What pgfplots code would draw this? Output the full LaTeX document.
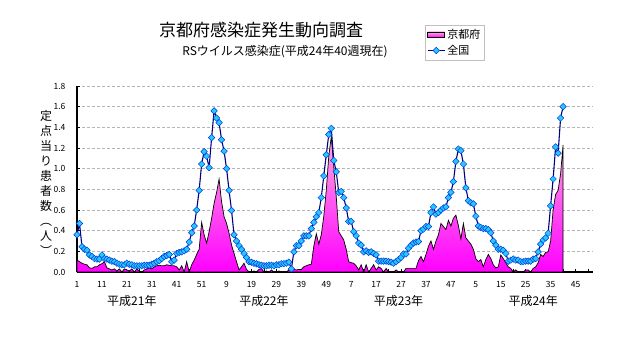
\documentclass[border=0pt]{standalone}
\usepackage{pgfplots}
\pgfplotsset{compat=1.18}
\usepackage{pgfplotstable}
\usepackage{fontspec}
\setmainfont{Noto Sans CJK JP}
\definecolor{navy}{RGB}{0,0,128}
\definecolor{mk}{RGB}{40,200,255}
\definecolor{mkedge}{RGB}{0,60,220}
\definecolor{pinktop}{RGB}{255,170,225}
\definecolor{pinkbot}{RGB}{255,0,255}
\definecolor{gridc}{RGB}{180,180,180}
\definecolor{legc}{RGB}{192,192,192}
\pgfplotstableread{
k nat kyo
0 0.36 0.115
1 0.47 0.10
2 0.245 0.085
3 0.22 0.075
4 0.21 0.07
5 0.165 0.04
6 0.15 0.035
7 0.13 0.05
8 0.125 0.05
9 0.125 0.07
10 0.165 0.08
11 0.13 0.10
12 0.125 0.04
13 0.115 0.03
14 0.105 0.02
15 0.10 0.03
16 0.085 0.01
17 0.075 0.03
18 0.07 0.0
19 0.07 0.03
20 0.085 0.02
21 0.075 0.01
22 0.07 0.03
23 0.06 0.0
24 0.06 0.03
25 0.06 0.01
26 0.06 0.0
27 0.065 0.02
28 0.065 0.03
29 0.065 0.04
30 0.075 0.03
31 0.085 0.05
32 0.10 0.06
33 0.11 0.065
34 0.13 0.06
35 0.15 0.06
36 0.16 0.07
37 0.17 0.065
38 0.10 0.06
39 0.115 0.06
40 0.18 0.05
41 0.19 0.02
42 0.195 0.06
43 0.205 0.0
44 0.22 0.10
45 0.29 0.0
46 0.38 0.07
47 0.445 0.115
48 0.60 0.17
49 0.79 0.22
50 1.045 0.48
51 1.165 0.36
52 1.12 0.28
53 1.01 0.39
54 1.30 0.52
55 1.56 0.665
56 1.49 0.77
57 1.445 0.90
58 1.28 0.68
59 1.17 0.535
60 1.0 0.47
61 0.79 0.375
62 0.595 0.26
63 0.36 0.18
64 0.30 0.10
65 0.255 0.02
66 0.22 0.05
67 0.18 0.085
68 0.14 0.025
69 0.10 0.0
70 0.095 0.0
71 0.085 0.01
72 0.08 0.0
73 0.07 0.025
74 0.065 0.035
75 0.06 0.0
76 0.06 0.01
77 0.065 0.0
78 0.065 0.02
79 0.06 0.0
80 0.07 0.0
81 0.07 0.01
82 0.08 0.0
83 0.08 0.0
84 0.085 0.0
85 0.095 0.02
86 0.03 0.02
87 0.195 0.025
88 0.255 0.02
89 0.255 0.025
90 0.30 0.025
91 0.35 0.05
92 0.35 0.06
93 0.35 0.07
94 0.42 0.075
95 0.48 0.25
96 0.535 0.37
97 0.575 0.27
98 0.72 0.36
99 0.93 0.54
100 1.135 0.79
101 1.33 1.12
102 1.39 1.31
103 1.08 1.02
104 0.97 0.73
105 0.77 0.39
106 0.78 0.35
107 0.72 0.31
108 0.62 0.22
109 0.49 0.10
110 0.49 0.09
111 0.39 0.085
112 0.35 0.06
113 0.28 0.02
114 0.26 0.07
115 0.195 0.0
116 0.205 0.07
117 0.19 0.0
118 0.195 0.035
119 0.18 0.07
120 0.165 0.02
121 0.105 0.05
122 0.105 0.035
123 0.105 0.0
124 0.105 0.035
125 0.10 0.0
126 0.095 0.0
127 0.085 0.0
128 0.10 0.02
129 0.12 0.0
130 0.14 0.0
131 0.175 0.0
132 0.175 0.035
133 0.23 0.035
134 0.26 0.035
135 0.28 0.035
136 0.29 0.035
137 0.295 0.11
138 0.40 0.15
139 0.415 0.10
140 0.44 0.17
141 0.44 0.25
142 0.575 0.30
143 0.63 0.22
144 0.56 0.30
145 0.575 0.36
146 0.60 0.47
147 0.62 0.44
148 0.63 0.41
149 0.72 0.50
150 0.77 0.445
151 0.875 0.52
152 1.07 0.55
153 1.19 0.45
154 1.175 0.32
155 1.045 0.47
156 0.815 0.33
157 0.69 0.30
158 0.67 0.27
159 0.66 0.22
160 0.54 0.13
161 0.445 0.10
162 0.43 0.12
163 0.42 0.05
164 0.42 0.12
165 0.41 0.17
166 0.38 0.13
167 0.30 0.07
168 0.26 0.04
169 0.22 0.05
170 0.22 0.165
171 0.21 0.13
172 0.18 0.09
173 0.105 0.05
174 0.115 0.035
175 0.125 0.0
176 0.115 0.02
177 0.115 0.0
178 0.10 0.0
179 0.10 0.0
180 0.105 0.02
181 0.105 0.02
182 0.105 0.0
183 0.125 0.035
184 0.13 0.05
185 0.195 0.09
186 0.27 0.17
187 0.31 0.15
188 0.33 0.19
189 0.375 0.195
190 0.64 0.30
191 0.90 0.60
192 1.21 0.75
193 1.15 0.79
194 1.49 0.95
195 1.60 1.23
}\data
\begin{document}
\begin{tikzpicture}
\useasboundingbox (0pt,0pt) rectangle (632pt,348pt);
\node[font=\fontsize{17}{20}\selectfont] at (261pt,318pt) {京都府感染症発生動向調査};
\node[font=\fontsize{12}{14}\selectfont] at (285pt,296pt) {RSウイルス感染症(平成24年40週現在)};
\node[font=\fontsize{12}{15}\selectfont, align=center, inner sep=0pt] at (46pt,165pt) {定\\点\\当\\り\\患\\者\\数\\︵\\人\\︶};
\begin{axis}[
  at={(77pt,76pt)}, anchor=south west,
  scale only axis, width=516pt, height=186pt,
  xmin=0, xmax=207, ymin=0, ymax=1.8,
  clip=false,
  axis x line*=bottom, axis y line*=left,
  axis line style={black, line width=1.2pt, -},
  tick align=inside,
  major tick length=3pt, minor tick length=3pt,
  tick style={black, line width=0.8pt},
  xtick={0,10,...,200},
  minor xtick={5,15,...,205},
  xticklabels={1,11,21,31,41,51,9,19,29,39,49,7,17,27,37,47,5,15,25,35,45},
  ytick={0,0.2,...,1.8},
  yticklabel={\pgfmathprintnumber[fixed,fixed zerofill,precision=1]{\tick}},
  /pgf/number format/assume math mode=true,
  ticklabel style={font=\fontsize{8.5}{10}\selectfont},
  yticklabel style={xshift=-8pt},
  xticklabel style={yshift=-6pt},
  ymajorgrids,
  grid style={gridc, line width=0.8pt, dash pattern=on 3pt off 2pt},
  legend style={at={(axis description cs:0.674,1.328)}, anchor=north west,
    draw=legc, line width=0.8pt, font=\fontsize{11}{13}\selectfont,
    inner sep=2pt, row sep=1pt, cells={anchor=west}},
  legend cell align=left,
]
\addplot[draw=black, line width=0.7pt, top color=pinktop, bottom color=pinkbot, area legend] table[x=k,y=kyo]{\data} \closedcycle;
\addlegendentry{京都府}
\addplot[navy, line width=1.1pt, mark=square*, mark size=2.3pt,
  mark options={rotate=45, fill=mk, draw=mkedge, line width=0.5pt}] table[x=k,y=nat]{\data};
\addlegendentry{全国}
\node[font=\fontsize{12}{14}\selectfont] at (axis cs:22,0) [yshift=-29pt] {平成21年};
\node[font=\fontsize{12}{14}\selectfont] at (axis cs:75,0) [yshift=-29pt] {平成22年};
\node[font=\fontsize{12}{14}\selectfont] at (axis cs:129,0) [yshift=-29pt] {平成23年};
\node[font=\fontsize{12}{14}\selectfont] at (axis cs:183,0) [yshift=-29pt] {平成24年};
\end{axis}
\end{tikzpicture}
\end{document}
